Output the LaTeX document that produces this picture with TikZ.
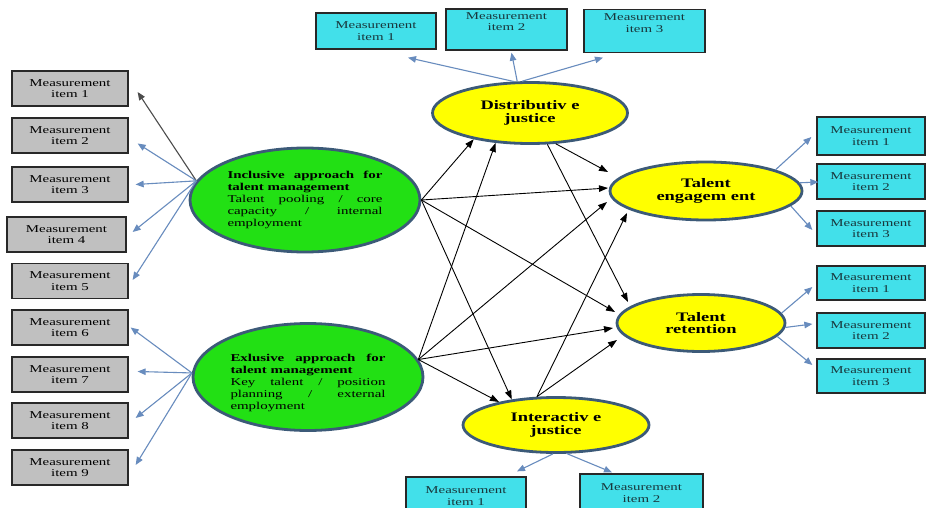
\documentclass[tikz,border=0pt]{standalone}
\usepackage{fontspec}
\setmainfont{Liberation Serif}[FakeStretch=1.42]
\usetikzlibrary{shapes.geometric,arrows.meta,calc}
\definecolor{grayfill}{RGB}{192,192,192}
\definecolor{cyanfill}{RGB}{66,224,234}
\definecolor{greenfill}{RGB}{34,224,20}
\definecolor{yellowfill}{RGB}{255,255,0}
\definecolor{ellline}{RGB}{60,90,120}
\definecolor{boxline}{RGB}{40,40,40}
\definecolor{bluearrow}{RGB}{104,140,190}
\definecolor{cyantext}{RGB}{25,55,60}
\tikzset{
  gbox/.style={draw=boxline, fill=grayfill, line width=1.3pt, inner sep=0pt,
    minimum width=116pt, minimum height=35pt, align=center,
    font=\fontsize{10.5}{11.5}\selectfont},
  cbox/.style={draw=boxline, fill=cyanfill, line width=1.3pt, inner sep=0pt,
    minimum width=120pt, minimum height=36pt, align=center, text=cyantext,
    font=\fontsize{10.5}{11.5}\selectfont},
  gell/.style={ellipse, draw=ellline, line width=2.8pt, fill=greenfill, inner sep=0pt,
    font=\fontsize{10.5}{12}\selectfont},
  yell/.style={ellipse, draw=ellline, line width=2.8pt, fill=yellowfill, inner sep=0pt,
    align=center, font=\bfseries\fontsize{13}{12.5}\selectfont},
  barrow/.style={draw=bluearrow, line width=1.1pt, -{Triangle[length=8pt,width=6.5pt]}},
  karrow/.style={draw=black, line width=0.9pt, -{Triangle[length=9pt,width=6.5pt]}},
}
\begin{document}
\begin{tikzpicture}[x=1pt,y=-1pt]
\fill[white] (0,0) rectangle (928,508);
\useasboundingbox (0,0) rectangle (928,508);

% left gray boxes
\node[gbox] (g1) at (70,88.5) {Measurement\\item 1};
\node[gbox] (g2) at (70,135.5) {Measurement\\item 2};
\node[gbox] (g3) at (70,184.5) {Measurement\\item 3};
\node[gbox, minimum width=119pt] (g4) at (66.5,234.5) {Measurement\\item 4};
\node[gbox] (g5) at (70,281) {Measurement\\item 5};
\node[gbox] (g6) at (70,327.5) {Measurement\\item 6};
\node[gbox] (g7) at (70,374.5) {Measurement\\item 7};
\node[gbox] (g8) at (70,420.5) {Measurement\\item 8};
\node[gbox] (g9) at (70,467.5) {Measurement\\item 9};

% top cyan boxes
\node[cbox] (t1) at (376,31) {Measurement\\item 1};
\node[cbox, minimum width=121pt, minimum height=41pt] (t2) at (506.5,29.5) {Measurement\\item 2\\[4pt]};
\node[cbox, minimum width=121pt, minimum height=43pt] (t3) at (644.5,31) {Measurement\\item 3\\[4pt]};

% right cyan boxes
\node[cbox, minimum width=108pt, minimum height=38pt] (e1) at (871,136) {Measurement\\item 1};
\node[cbox, minimum width=108pt, minimum height=35pt] (e2) at (871,181.5) {Measurement\\item 2};
\node[cbox, minimum width=108pt, minimum height=35pt] (e3) at (871,228.5) {Measurement\\item 3};
\node[cbox, minimum width=108pt, minimum height=34pt] (r1) at (871,283) {Measurement\\item 1};
\node[cbox, minimum width=108pt, minimum height=35pt] (r2) at (871,330.5) {Measurement\\item 2};
\node[cbox, minimum width=108pt, minimum height=34pt] (r3) at (871,376) {Measurement\\item 3};

% bottom cyan boxes
\node[cbox, minimum width=120pt, minimum height=38pt] (b1) at (466,496) {Measurement\\item 1};
\node[cbox, minimum width=123pt, minimum height=38pt] (b2) at (641.5,493) {Measurement\\item 2};

% ellipses
\node[gell, minimum width=230pt, minimum height=104pt] (incl) at (305,200)
  {\parbox[c]{155pt}{\textbf{Inclusive\hfill approach\hfill for}\\\textbf{talent management}\\
   Talent\hfill pooling\hfill /\hfill core\\capacity\hfill /\hfill internal\\employment}};
\node[gell, minimum width=230pt, minimum height=107pt] (excl) at (308,377)
  {\raisebox{-9pt}[0pt][0pt]{\parbox[c]{155pt}{\textbf{Exlusive\hfill approach\hfill for}\\\textbf{talent management}\\
   Key\hfill talent\hfill /\hfill position\\planning\hfill /\hfill external\\employment}}};
\node[yell, minimum width=195pt, minimum height=61pt] (D) at (530,113) {Distributiv e\\justice};
\node[yell, minimum width=192pt, minimum height=58pt] (E) at (706,191) {Talent\\engagem ent};
\node[yell, minimum width=168pt, minimum height=57pt] (R) at (701,323) {Talent\\retention};
\node[yell, minimum width=186pt, minimum height=55pt] (I) at (556,425) {Interactiv e\\justice};

% blue measurement arrows
\draw[barrow, draw=black!70] (incl.170) -- ($(g1.east)+(9,3.5)$);
\draw[barrow] (incl.170) -- ($(g2.east)+(9,8)$);
\draw[barrow] (incl.170) -- ($(g3.east)+(7,0)$);
\draw[barrow] (incl.170) -- ($(g4.east)+(6,-2.5)$);
\draw[barrow] (incl.170) -- ($(g5.east)+(4,-1)$);
\draw[barrow] (excl.178) -- ($(g6.east)+(2,0)$);
\draw[barrow] (excl.178) -- ($(g7.east)+(9,-3)$);
\draw[barrow] (excl.178) -- ($(g8.east)+(7,-2.5)$);
\draw[barrow] (excl.178) -- ($(g9.east)+(7,-2.5)$);

\draw[barrow] (D.117) -- ($(t1.south)+(32,8)$);
\draw[barrow] (D.112) -- ($(t2.south)+(5,2)$);
\draw[barrow] (D.104) -- ($(t3.south)+(-41.5,4.5)$);

\draw[barrow] (E.17) -- ($(e1.west)+(-5,1)$);
\draw[barrow] (E.5) -- ($(e2.west)+(2,0.5)$);
\draw[barrow] (E.-10) -- ($(e3.west)+(-4,1.5)$);
\draw[barrow] (R.7) -- ($(r1.west)+(-4,4)$);
\draw[barrow] (R.-3) -- ($(r2.west)+(-4,-6.5)$);
\draw[barrow] (R.-10) -- ($(r3.west)+(-4,-11)$);

\draw[barrow] (I.264) -- ($(b1.north)+(51,-5)$);
\draw[barrow] (I.291) -- ($(b2.north)+(-29.5,-1)$);

% black structural arrows
\draw[karrow] (incl.east) -- (D.205);
\draw[karrow] (incl.east) -- ($(E.center)+(-98,-3)$);
\draw[karrow] (incl.east) -- ($(R.center)+(-86,-11)$);
\draw[karrow] (incl.east) -- (I.150);
\draw[karrow] (excl.9) -- (D.221);
\draw[karrow] (excl.9) -- ($(E.center)+(-99,11)$);
\draw[karrow] (excl.9) -- ($(R.center)+(-88,5)$);
\draw[karrow] (excl.9) -- (I.158);
\draw[karrow] (D.-50) -- ($(E.center)+(-98,-19)$);
\draw[karrow] (D.-61) -- ($(R.center)+(-73,-21)$);
\draw[karrow] (I.124) -- ($(E.center)+(-79,22)$);
\draw[karrow] (I.124) -- ($(R.center)+(-84,17)$);
\end{tikzpicture}
\end{document}
